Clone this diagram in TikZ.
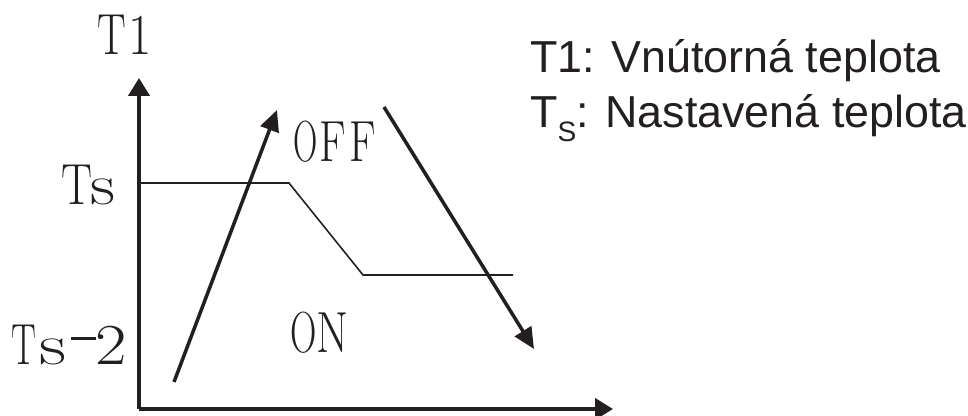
\documentclass[tikz,border=0pt]{standalone}
\usepackage{fontspec}
\usepackage{graphicx}
\usepackage{tikz}
\usetikzlibrary{arrows.meta, positioning}
\newfontfamily\legendfont{Liberation Sans}
\definecolor{curveblack}{HTML}{231F20}
% narrow or widen one letter of the serif labels
\newcommand{\squeeze}[2]{\scalebox{#1}[1]{#2}}

\begin{document}
\begin{tikzpicture}[
    axisline/.style={line width=2.3pt, curveblack, -{Triangle[length=0.36cm, width=0.42cm]}},
    runarrow/.style={line width=2pt, curveblack, -{Triangle[length=0.42cm, width=0.38cm]}},
    serifmark/.style={font=\fontsize{33}{36}\selectfont, curveblack, anchor=base west, inner sep=0pt},
    legendtext/.style={font=\legendfont\fontsize{25.5}{30}\selectfont, curveblack, anchor=base west, inner sep=0pt}
  ]
  \useasboundingbox (0,0) rectangle (19.36,8.32);
  % axes
  \coordinate (origin) at (2.78,0.14);
  \coordinate (ytip) at (2.78,6.76);
  \coordinate (xtip) at (12.26,0.14);
  \draw[axisline] (origin) -- (ytip);
  \draw[axisline] (origin) -- (xtip);
  % set point curve
  \coordinate (tsstart) at (2.78,4.66);
  \coordinate (tsbend) at (5.78,4.66);
  \coordinate (lowbend) at (7.26,2.82);
  \coordinate (lowend) at (10.26,2.82);
  \draw[line width=0.9pt, curveblack] (tsstart) -- (tsbend) -- (lowbend) -- (lowend);
  % heating up / cooling down
  \coordinate (upstart) at (3.48,0.68);
  \coordinate (upend) at (5.54,6.12);
  \coordinate (downstart) at (7.68,6.18);
  \coordinate (downend) at (10.68,1.34);
  \draw[runarrow] (upstart) -- (upend);
  \draw[runarrow] (downstart) -- (downend);
  % labels
  \node[serifmark] (ylabel) at (1.934,7.22) {\squeeze{0.74}{T}\kern1.4pt\squeeze{0.87}{1}};
  \node[serifmark] (tslabel) at (1.232,4.22) {\squeeze{0.8}{T}\kern-1.6pt\squeeze{1.2}{s}};
  \node[serifmark] (tsminus) at (0.218,1.02) {\squeeze{0.64}{T}\kern1.7pt\squeeze{1.3}{s}\kern2.6pt\rule[14.5pt]{14.5pt}{1.2pt}\kern-0.6pt\squeeze{1.18}{2}};
  \node[serifmark] (offlabel) at (5.866,5.08) {\squeeze{0.58}{O}\kern1.2pt\squeeze{0.76}{F}\kern1.9pt\squeeze{0.76}{F}};
  \node[serifmark] (onlabel) at (5.804,1.26) {\squeeze{0.63}{O}\squeeze{0.8}{N}};
  % legend
  \node[legendtext] (legendone) at (10.60,6.86) {T1: Vnútorná teplota};
  \node[legendtext] (legendtwo) at (10.60,5.76) {T\raisebox{-0.28cm}{\fontsize{16}{16}\selectfont S}: Nastavená teplota};
\end{tikzpicture}
\end{document}
